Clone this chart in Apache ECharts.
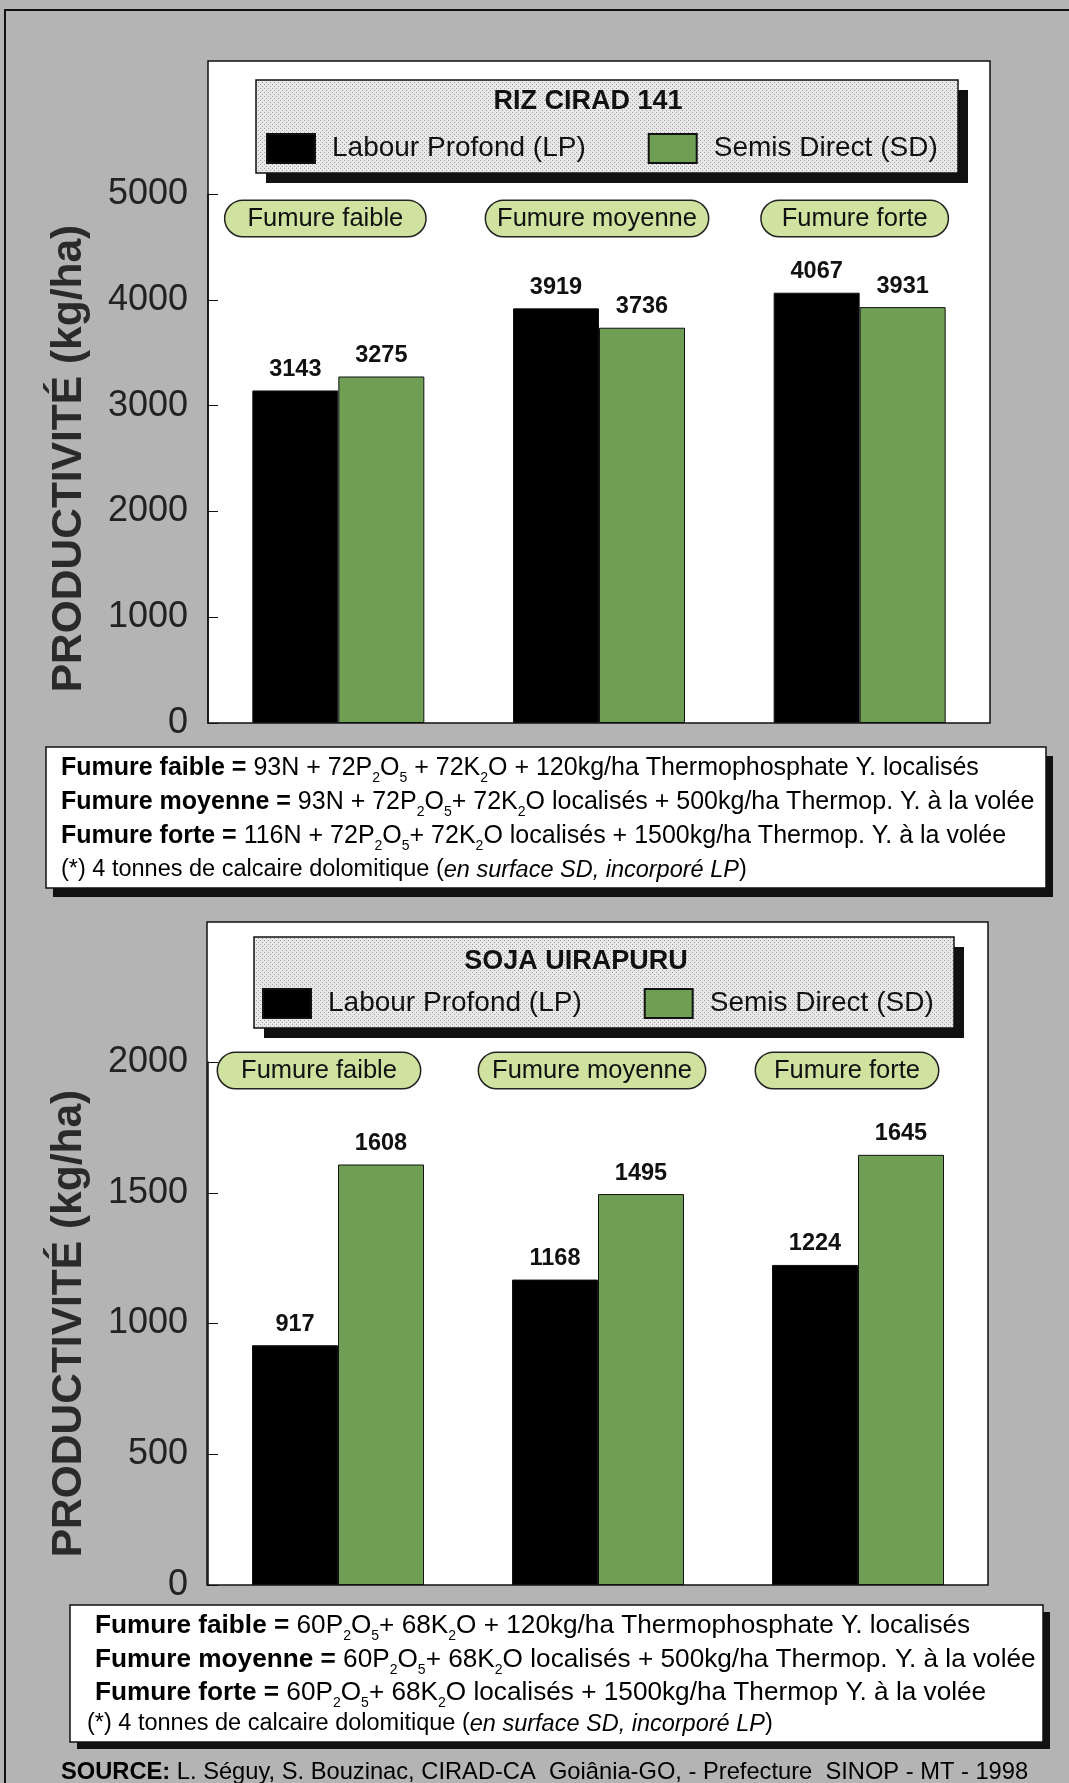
<!DOCTYPE html>
<html>
<head>
<meta charset="utf-8">
<script src="https://cdn.jsdelivr.net/npm/echarts@6/dist/echarts.min.js"></script>
<style>
  html, body { margin: 0; padding: 0; background: #b4b4b4; }
  #chart { width: 1069px; height: 1783px; }
</style>
</head>
<body>
<div id="chart"></div>
<script>
// Rendement du riz et du soja selon le mode de préparation du sol et la fumure
const categories = ['Fumure faible', 'Fumure moyenne', 'Fumure forte'];
const seriesNames = ['Labour Profond (LP)', 'Semis Direct (SD)'];

const rizTitle = 'RIZ CIRAD 141';
const rizLP = [3143, 3919, 4067];
const rizSD = [3275, 3736, 3931];
const rizTicks = { min: 0, max: 5000, interval: 1000 };

const sojaTitle = 'SOJA UIRAPURU';
const sojaLP = [917, 1168, 1224];
const sojaSD = [1608, 1495, 1645];
const sojaTicks = { min: 0, max: 2000, interval: 500 };

const yName = 'PRODUCTIVITÉ (kg/ha)';

const rizNotes = [
  '{b|Fumure faible = }{n|93N + 72P}{s|2}{n|O}{s|5}{n| + 72K}{s|2}{n|O + 120kg/ha Thermophosphate Y. localisés}',
  '{b|Fumure moyenne = }{n|93N + 72P}{s|2}{n|O}{s|5}{n|+ 72K}{s|2}{n|O localisés + 500kg/ha Thermop. Y. à la volée}',
  '{b|Fumure forte = }{n|116N + 72P}{s|2}{n|O}{s|5}{n|+ 72K}{s|2}{n|O localisés + 1500kg/ha Thermop. Y. à la volée}',
  '{m|(*) 4 tonnes de calcaire dolomitique (}{i|en surface SD, incorporé LP}{m|)}'
];
const sojaNotes = [
  '{b|Fumure faible = }{n|60P}{s|2}{n|O}{s|5}{n|+ 68K}{s|2}{n|O + 120kg/ha Thermophosphate Y. localisés}',
  '{b|Fumure moyenne = }{n|60P}{s|2}{n|O}{s|5}{n|+ 68K}{s|2}{n|O localisés + 500kg/ha Thermop. Y. à la volée}',
  '{b|Fumure forte = }{n|60P}{s|2}{n|O}{s|5}{n|+ 68K}{s|2}{n|O localisés + 1500kg/ha Thermop Y. à la volée}',
  '{m|(*) 4 tonnes de calcaire dolomitique (}{i|en surface SD, incorporé LP}{m|)}'
];
const sourceText = '{b|SOURCE:}{n| L. Séguy, S. Bouzinac, CIRAD-CA  Goiânia-GO, - Prefecture  SINOP - MT - 1998}';

const FONT = '"Liberation Sans", Arial, sans-serif';
const GREEN = '#6f9f55';
const PILL = '#cfe29f';

// fine dotted screen used for the legend panels
function dotPattern(base, dot) {
  const c = document.createElement('canvas');
  c.width = 4; c.height = 4;
  const g = c.getContext('2d');
  g.fillStyle = base; g.fillRect(0, 0, 4, 4);
  g.fillStyle = dot; g.fillRect(0, 0, 1, 1); g.fillRect(2, 2, 1, 1);
  return { image: c, repeat: 'repeat' };
}

function textWidth(txt, font) {
  const g = document.createElement('canvas').getContext('2d');
  g.font = font;
  return g.measureText(txt).width;
}

function noteRich(size, small) {
  return {
    b: { fontFamily: FONT, fontSize: size, fontWeight: 'bold', color: '#111', lineHeight: 34 },
    n: { fontFamily: FONT, fontSize: size, color: '#111', lineHeight: 34 },
    s: { fontFamily: FONT, fontSize: 14, color: '#111', lineHeight: 15, verticalAlign: 'bottom' },
    m: { fontFamily: FONT, fontSize: small, color: '#111', lineHeight: 30 },
    i: { fontFamily: FONT, fontSize: small, fontStyle: 'italic', color: '#111', lineHeight: 30 }
  };
}

function titleOpt(text, cx, cy) {
  const size = 27;
  const w = textWidth(text, 'bold ' + size + 'px "Liberation Sans"');
  return {
    text: text, left: cx - w / 2, top: cy - 15, padding: 0,
    textStyle: { fontFamily: FONT, fontSize: size, fontWeight: 'bold', color: '#111' }
  };
}

function legendOpt(left, top) {
  return {
    data: seriesNames, left: left, top: top, padding: 0,
    itemWidth: 48, itemHeight: 29, itemGap: 62,
    icon: 'rect', selectedMode: false,
    textStyle: { fontFamily: FONT, fontSize: 28, color: '#111', padding: [0, 0, 0, 12] }
  };
}

// category axis drawn as rounded "pill" tags along the top of each panel;
// pads = side padding of each tag, shifts = horizontal nudge of each tag
function xAxisOpt(gridIndex, margin, pads, shifts) {
  const rich = {};
  pads.forEach((p, i) => {
    rich['p' + i] = {
      fontFamily: FONT, fontSize: 25.5, color: '#111',
      backgroundColor: PILL, borderColor: '#222', borderWidth: 1.5, borderRadius: 18,
      padding: [5, p, 4, p]
    };
    rich['g' + i] = { width: Math.abs(shifts[i]) * 2, fontSize: 10 };
  });
  return {
    type: 'category', gridIndex: gridIndex, data: categories, position: 'top',
    axisLine: { show: false }, axisTick: { show: false },
    axisLabel: {
      inside: true, margin: margin, interval: 0,
      formatter: (v, i) => shifts[i] < 0
        ? '{p' + i + '|' + v + '}{g' + i + '| }'
        : '{g' + i + '| }{p' + i + '|' + v + '}',
      rich: rich
    }
  };
}

function yAxisOpt(gridIndex, t) {
  return {
    type: 'value', gridIndex: gridIndex, min: t.min, max: t.max, interval: t.interval,
    name: yName, nameLocation: 'middle', nameGap: 117,
    nameTextStyle: { fontFamily: FONT, fontSize: 42.5, fontWeight: 'bold', color: '#2a2a2a' },
    axisLine: { show: true, lineStyle: { color: '#111', width: 1.5 } },
    axisTick: { show: true, inside: true, length: 10, lineStyle: { color: '#111', width: 1 } },
    splitLine: { show: false },
    axisLabel: {
      fontFamily: FONT, fontSize: 36, color: '#222', margin: 20,
      formatter: v => String(v)
    }
  };
}

function barSeries(name, data, idx, color) {
  return {
    type: 'bar', name: name, data: data, xAxisIndex: idx, yAxisIndex: idx,
    barWidth: 86, barGap: '0%',
    itemStyle: { color: color, borderColor: '#111', borderWidth: 1 },
    label: {
      show: true, position: 'top', distance: 9,
      fontFamily: FONT, fontSize: 23.5, fontWeight: 'bold', color: '#111'
    }
  };
}

function panel(x, y, w, h, dx, dy, fill) {
  return [
    { type: 'rect', shape: { x: x + dx, y: y + dy, width: w, height: h }, style: { fill: '#111' }, z: 0 },
    { type: 'rect', shape: { x: x, y: y, width: w, height: h }, style: { fill: fill, stroke: '#111', lineWidth: 1.5 }, z: 1 }
  ];
}

function noteLines(lines, x, ys, rich) {
  return lines.map((t, i) => ({
    type: 'text', x: x[i], y: ys[i], z: 3,
    style: { text: t, rich: rich, verticalAlign: 'middle' }
  }));
}

const legendFill = dotPattern('#e8e8e8', '#a0a0a0');

const graphics = [].concat(
  // outer frame
  [{ type: 'polyline', shape: { points: [[5, 1783], [5, 10], [1069, 10]] }, style: { stroke: '#111', lineWidth: 2, fill: null }, z: 0 }],
  // plotting panels
  [{ type: 'rect', shape: { x: 208, y: 61, width: 782, height: 662 }, style: { fill: '#fff', stroke: '#111', lineWidth: 1.5 }, z: 0 }],
  [{ type: 'rect', shape: { x: 207, y: 922, width: 781, height: 663 }, style: { fill: '#fff', stroke: '#111', lineWidth: 1.5 }, z: 0 }],
  // legend panels
  panel(256, 80, 702, 93, 10, 10, legendFill),
  panel(254, 937, 700, 91, 10, 10, legendFill),
  // note panels
  panel(46, 747, 1000, 141, 7, 9, '#fff'),
  panel(70, 1605, 973, 137, 7, 7, '#fff'),
  noteLines(rizNotes, [61, 61, 61, 61], [768, 802, 836, 870], noteRich(25, 23.5)),
  noteLines(sojaNotes, [95, 95, 95, 87], [1626, 1660, 1693, 1724], noteRich(26.2, 23.5)),
  [{
    type: 'text', x: 61, y: 1772, z: 3,
    style: {
      text: sourceText, verticalAlign: 'middle',
      rich: {
        b: { fontFamily: FONT, fontSize: 23.7, fontWeight: 'bold', color: '#2a2a2a' },
        n: { fontFamily: FONT, fontSize: 23.7, color: '#2a2a2a' }
      }
    }
  }]
);

const chart = echarts.init(document.getElementById('chart'), null, { renderer: 'canvas' });
chart.setOption({
  backgroundColor: '#b4b4b4',
  animation: false,
  color: ['#000000', GREEN],
  title: [titleOpt(rizTitle, 588, 103), titleOpt(sojaTitle, 576, 963)],
  legend: [legendOpt(266, 133), legendOpt(262, 988)],
  grid: [
    { left: 208, right: 79, top: 194, bottom: 1060 },
    { left: 208, right: 81, top: 1062, bottom: 198 }
  ],
  xAxis: [
    xAxisOpt(0, 7, [22, 11, 20], [-13, -2, -5]),
    xAxisOpt(1, -9, [23, 13, 18], [-19, -6, -11])
  ],
  yAxis: [yAxisOpt(0, rizTicks), yAxisOpt(1, sojaTicks)],
  series: [
    barSeries(seriesNames[0], rizLP, 0, '#000000'),
    barSeries(seriesNames[1], rizSD, 0, GREEN),
    barSeries(seriesNames[0], sojaLP, 1, '#000000'),
    barSeries(seriesNames[1], sojaSD, 1, GREEN)
  ],
  graphic: graphics
});
</script>
</body>
</html>
